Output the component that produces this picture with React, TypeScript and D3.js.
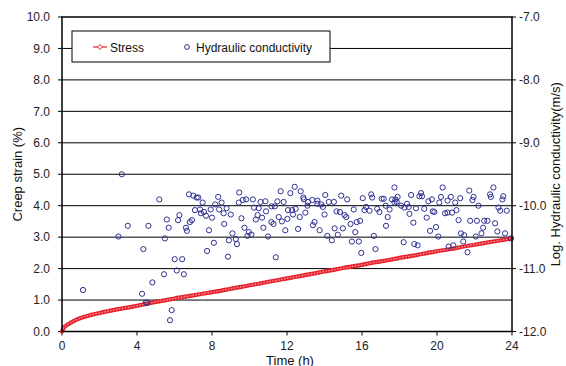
import React from 'react';
import * as d3 from 'd3';

// axis ticks
const TIME_TICKS = [0, 4, 8, 12, 16, 20, 24];
const STRAIN_TICKS = [0, 1, 2, 3, 4, 5, 6, 7, 8, 9, 10];
const LOGK_TICKS = [-7, -8, -9, -10, -11, -12];

// creep strain (%)
const STRESS_TIME = [
  0, 0.1, 0.25, 0.5, 0.75, 1, 1.5, 2, 2.5, 3, 3.5, 4, 4.5, 5, 5.5, 6, 6.5, 7, 7.5, 8, 8.5, 9, 9.5,
  10, 10.5, 11, 11.5, 12, 12.5, 13, 13.5, 14, 14.5, 15, 15.5, 16, 16.5, 17, 17.5,
  18, 18.5, 19, 19.5, 20, 20.5, 21, 21.5, 22, 22.5, 23, 23.5, 24,
];
const STRESS_STRAIN = [
  0.0, 0.12, 0.2, 0.29, 0.37, 0.43, 0.52, 0.59, 0.65, 0.71, 0.76, 0.82, 0.88, 0.94, 0.99,
  1.05, 1.1, 1.15, 1.2, 1.25, 1.3, 1.36, 1.41, 1.47, 1.52, 1.58, 1.63, 1.69, 1.74, 1.8, 1.85,
  1.91, 1.96, 2.02, 2.07, 2.12, 2.18, 2.23, 2.28, 2.34, 2.39, 2.44, 2.5, 2.55, 2.6,
  2.65, 2.71, 2.76, 2.81, 2.86, 2.91, 2.96,
];

// hydraulic conductivity: [time (h), log k (m/s)]
const HC_POINTS: [number, number][] = [
  [1.12, -11.34], [3.01, -10.49], [3.19, -9.5], [3.51, -10.32], [4.27, -11.4],
  [4.34, -10.69], [4.47, -11.54], [4.55, -11.54], [4.61, -10.32], [4.82, -11.22],
  [5.19, -9.9], [5.44, -11.09], [5.49, -10.52], [5.59, -10.22], [5.69, -10.35],
  [5.76, -11.82], [5.85, -11.66], [6.01, -10.85], [6.12, -11.03], [6.19, -10.23],
  [6.26, -10.15], [6.41, -10.85], [6.5, -11.09], [6.61, -10.35], [6.66, -10.4],
  [6.77, -9.82], [6.82, -10.26], [6.93, -10.23], [7.0, -9.84], [7.09, -10.07],
  [7.18, -9.87], [7.27, -9.87], [7.36, -10.06], [7.41, -10.12], [7.5, -9.95],
  [7.57, -10.1], [7.68, -10.16], [7.74, -10.72], [7.84, -10.39], [7.93, -10.06],
  [8.0, -10.19], [8.1, -10.59], [8.17, -9.98], [8.33, -9.86], [8.38, -10.06],
  [8.51, -9.95], [8.62, -10.12], [8.65, -10.29], [8.78, -10.04], [8.85, -10.81],
  [8.9, -10.55], [9.0, -10.14], [9.09, -10.44], [9.27, -10.53], [9.33, -10.61],
  [9.43, -9.95], [9.45, -9.79], [9.57, -10.2], [9.64, -9.91], [9.73, -10.35],
  [9.82, -9.9], [9.89, -10.48], [9.96, -10.42], [10.1, -10.46], [10.18, -9.9],
  [10.24, -10.03], [10.34, -10.22], [10.43, -10.15], [10.49, -10.04], [10.59, -9.94],
  [10.67, -10.19], [10.74, -10.35], [10.85, -9.93], [10.88, -10.09], [10.99, -10.49],
  [11.17, -10.01], [11.17, -10.26], [11.28, -10.29], [11.35, -10.01], [11.4, -10.82],
  [11.49, -9.93], [11.56, -10.18], [11.66, -9.77], [11.73, -10.25], [11.82, -9.94],
  [11.91, -10.39], [12.02, -10.21], [12.05, -10.07], [12.18, -9.8], [12.27, -10.07],
  [12.32, -10.14], [12.41, -9.7], [12.46, -10.05], [12.59, -10.37], [12.68, -10.18],
  [12.73, -9.77], [12.87, -9.87], [12.9, -9.9], [12.98, -10.11], [13.09, -10.0],
  [13.12, -9.94], [13.35, -9.91], [13.38, -10.31], [13.47, -10.26], [13.62, -9.92],
  [13.62, -9.97], [13.74, -10.39], [13.83, -9.98], [13.91, -10.02], [14.0, -10.14],
  [14.04, -9.83], [14.15, -10.48], [14.23, -9.94], [14.39, -10.55], [14.5, -9.94],
  [14.54, -10.36], [14.64, -10.09], [14.71, -10.46], [14.82, -10.1], [14.89, -9.84],
  [14.98, -10.36], [15.07, -10.15], [15.16, -10.18], [15.21, -9.9], [15.39, -10.29],
  [15.46, -10.57], [15.56, -10.06], [15.64, -10.42], [15.72, -10.26], [15.83, -10.57],
  [15.9, -10.24], [15.96, -10.75], [16.04, -9.88], [16.13, -10.07], [16.22, -10.02],
  [16.4, -10.08], [16.49, -9.82], [16.54, -9.87], [16.63, -10.48], [16.72, -10.69],
  [16.81, -10.05], [16.93, -10.1], [17.05, -9.89], [17.16, -9.89], [17.26, -10.0],
  [17.28, -10.32], [17.37, -10.18], [17.47, -10.06], [17.6, -9.9], [17.73, -9.71],
  [17.73, -9.95], [17.78, -9.9], [17.85, -9.94], [17.9, -9.86], [18.09, -10.0],
  [18.22, -10.58], [18.26, -10.03], [18.4, -9.97], [18.49, -10.02], [18.53, -10.13],
  [18.62, -9.83], [18.74, -10.27], [18.79, -10.61], [18.88, -10.04], [18.97, -10.63],
  [19.06, -9.85], [19.15, -9.8], [19.2, -9.85], [19.32, -10.05], [19.45, -10.19],
  [19.54, -9.93], [19.63, -10.4], [19.73, -9.9], [19.77, -10.09], [19.86, -10.1],
  [19.95, -10.34], [20.07, -10.49], [20.12, -9.95], [20.21, -9.86], [20.3, -9.71],
  [20.43, -10.12], [20.56, -9.92], [20.56, -10.11], [20.62, -10.65], [20.74, -9.86],
  [20.8, -10.11], [20.87, -10.63], [20.97, -9.95], [21.04, -10.07], [21.15, -10.23],
  [21.24, -9.88], [21.28, -10.44], [21.4, -10.57], [21.45, -10.47], [21.63, -10.74],
  [21.72, -9.76], [21.77, -10.24], [21.89, -9.91], [21.95, -9.86], [22.07, -10.49],
  [22.13, -10.24], [22.21, -10.0], [22.37, -10.44], [22.46, -10.35], [22.52, -10.24],
  [22.69, -10.24], [22.83, -9.82], [22.87, -9.86], [23.01, -9.71], [23.1, -10.28],
  [23.22, -10.41], [23.28, -10.03], [23.37, -10.08], [23.49, -9.9], [23.53, -9.85],
  [23.63, -10.44], [23.72, -10.08], [23.94, -10.52],
];

const W = 566;
const H = 366;
const L = 62;
const R = 512;
const T = 17;
const B = 331.5;
const FONT = 'Liberation Sans, Arial, sans-serif';
const RED = '#e8222c';
const BLUE = '#2e3192';

export default function App() {
  const x = d3.scaleLinear().domain([0, 24]).range([L, R]);
  const yL = d3.scaleLinear().domain([0, 10]).range([B, T]);
  const yR = d3.scaleLinear().domain([-12, -7]).range([B, T]);

  const stressLine = d3
    .line<number>()
    .x((_, i) => x(STRESS_TIME[i]))
    .y((d) => yL(d))
    .curve(d3.curveMonotoneX)(STRESS_STRAIN) || '';

  return (
    <svg
      width={W}
      height={H}
      style={{ position: 'absolute', left: 0, top: 0, background: '#fff' }}
      fontFamily={FONT}
    >
      {/* gridlines */}
      {STRAIN_TICKS.slice(1, -1).map((v) => (
        <line key={'g' + v} x1={L} x2={R} y1={yL(v)} y2={yL(v)} stroke="#000" strokeWidth={1} />
      ))}

      {/* left axis */}
      {STRAIN_TICKS.map((v) => (
        <g key={'l' + v}>
          <line x1={L - 4} x2={L} y1={yL(v)} y2={yL(v)} stroke="#000" />
          <text x={50} y={yL(v)} dy="0.35em" textAnchor="end" fontSize={12} fill="#222">
            {v.toFixed(1)}
          </text>
        </g>
      ))}

      {/* right axis */}
      {LOGK_TICKS.map((v) => (
        <g key={'r' + v}>
          <line x1={R} x2={R + 4} y1={yR(v)} y2={yR(v)} stroke="#000" />
          <text x={519} y={yR(v)} dy="0.35em" textAnchor="start" fontSize={12} fill="#222">
            {v.toFixed(1)}
          </text>
        </g>
      ))}

      {/* x axis */}
      {TIME_TICKS.map((v) => (
        <g key={'x' + v}>
          <line x1={x(v)} x2={x(v)} y1={B} y2={B + 4} stroke="#000" />
          <text x={x(v)} y={350} textAnchor="middle" fontSize={12} fill="#222">
            {v}
          </text>
        </g>
      ))}

      {/* stress curve */}
      <path d={stressLine} fill="none" stroke={RED} strokeWidth={4.2} strokeLinecap="round" />
      <path
        d={stressLine}
        fill="none"
        stroke="#f6a3a6"
        strokeWidth={1.2}
        strokeDasharray="1.5 1.5"
      />

      {/* hydraulic conductivity */}
      {HC_POINTS.map(([t, k], i) => (
        <circle key={'h' + i} cx={x(t)} cy={yR(k)} r={2.6} fill="none" stroke={BLUE} strokeWidth={1} />
      ))}

      {/* frame */}
      <rect x={L} y={T} width={R - L} height={B - T} fill="none" stroke="#000" strokeWidth={1.5} />

      {/* legend */}
      <rect x={72} y={31} width={258} height={31} fill="#fff" stroke="#000" strokeWidth={1} />
      <line x1={93} x2={107} y1={47} y2={47} stroke={RED} strokeWidth={1.2} />
      <path d="M100,44.5 L102.5,47 L100,49.5 L97.5,47 Z" fill="#fff" stroke={RED} strokeWidth={1} />
      <text x={110} y={51.5} fontSize={12} fill="#111">Stress</text>
      <circle cx={187} cy={47} r={2.4} fill="none" stroke={BLUE} strokeWidth={1} />
      <text x={196} y={51.5} fontSize={12} fill="#111">Hydraulic conductivity</text>

      {/* axis titles */}
      <text x={290} y={364.5} textAnchor="middle" fontSize={13} fill="#111">Time (h)</text>
      <text
        transform={`translate(22,${(T + B) / 2}) rotate(-90)`}
        textAnchor="middle"
        fontSize={13}
        fill="#111"
      >
        Creep strain (%)
      </text>
      <text
        transform={`translate(560,${(T + B) / 2}) rotate(-90)`}
        textAnchor="middle"
        fontSize={13}
        fill="#111"
      >
        Log. Hydraulic conductivity(m/s)
      </text>
    </svg>
  );
}
